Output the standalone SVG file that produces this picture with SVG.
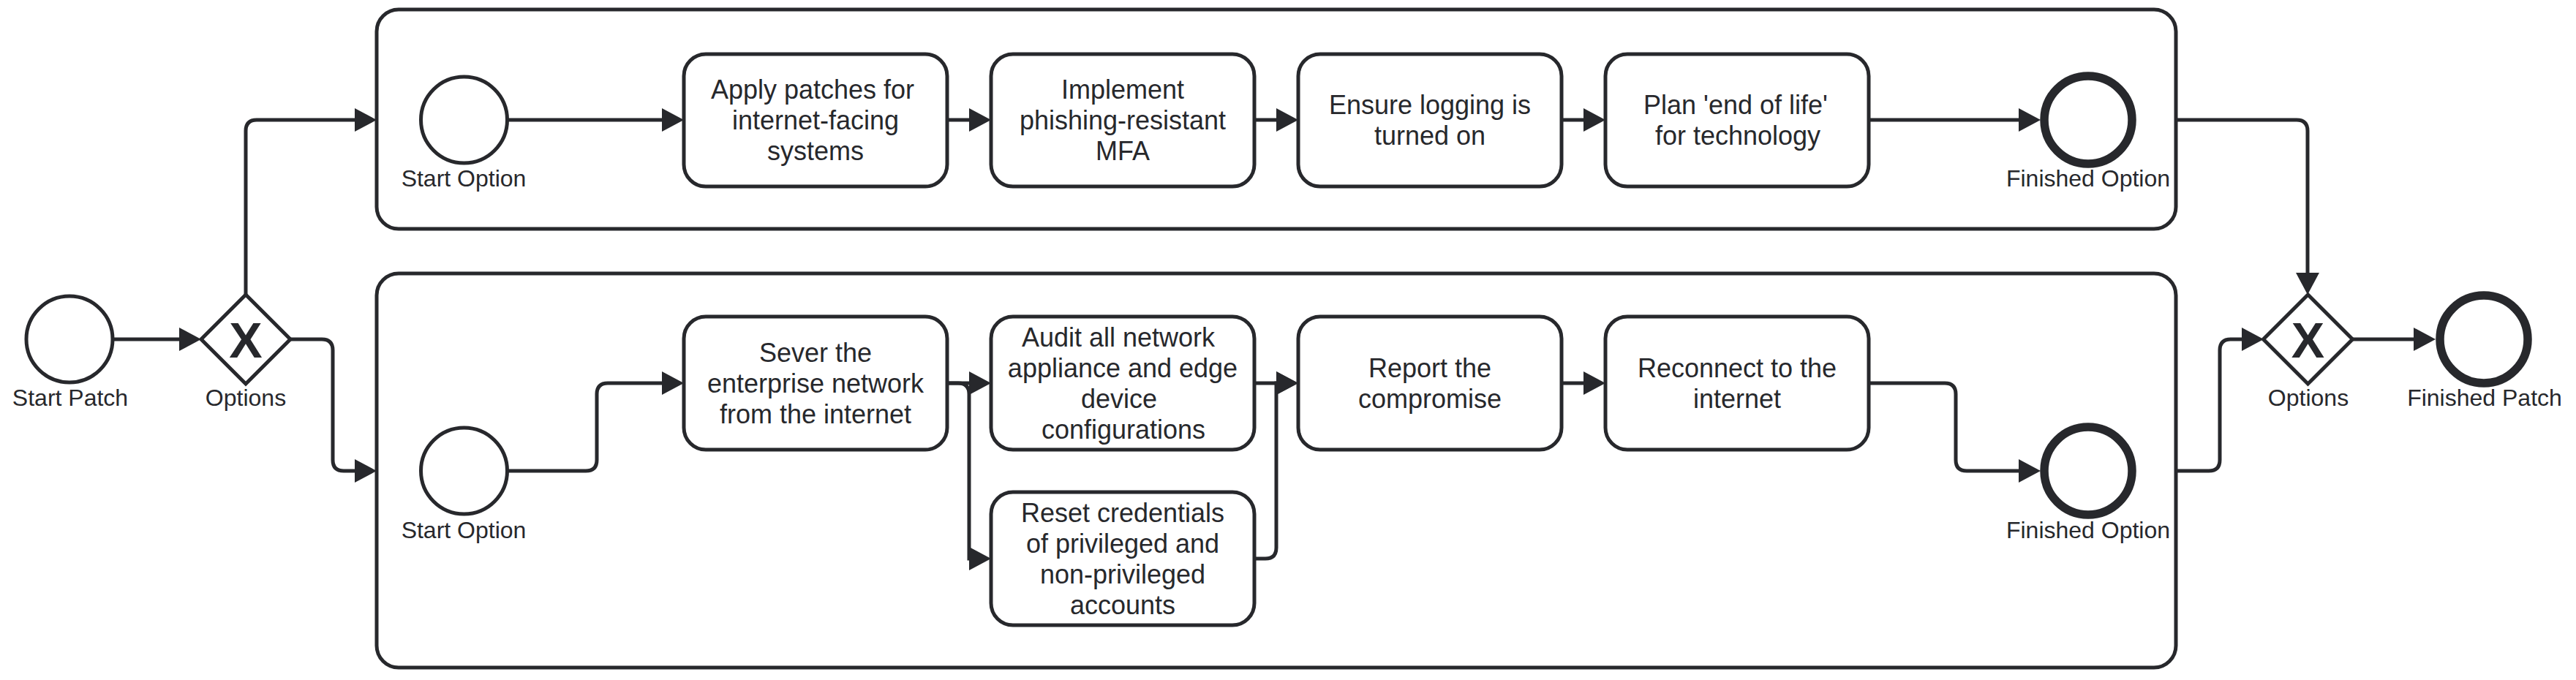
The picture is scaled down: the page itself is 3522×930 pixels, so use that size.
<svg xmlns="http://www.w3.org/2000/svg" width="3522" height="930" viewBox="0 0 3522 930">
<style>
.pool{fill:#ffffff;stroke:#27282c;stroke-width:5}
.task{fill:#ffffff;stroke:#27282c;stroke-width:5}
.start{fill:#ffffff;stroke:#27282c;stroke-width:5}
.end{fill:#ffffff;stroke:#27282c;stroke-width:11.5}
.gw{fill:#ffffff;stroke:#27282c;stroke-width:5;stroke-linejoin:miter}
.edge{fill:none;stroke:#27282c;stroke-width:5;marker-end:url(#arr)}
.lbl{font-family:"Liberation Sans",Arial,sans-serif;font-size:32px;fill:#27282c;text-anchor:middle}
.txt{font-family:"Liberation Sans",Arial,sans-serif;font-size:36px;fill:#27282c;text-anchor:middle}
.gx{font-family:"Liberation Sans",Arial,sans-serif;font-size:68px;font-weight:bold;fill:#27282c;text-anchor:middle}
</style>
<defs>
<marker id="arr" markerUnits="userSpaceOnUse" markerWidth="30" markerHeight="32" refX="5" refY="16" orient="auto">
<path d="M0,0 L30,16 L0,32 Z" fill="#27282c"/>
</marker>
</defs>
<rect x="0" y="0" width="3522" height="930" fill="#ffffff"/>
<g id="pool-top"><rect class="pool" x="515" y="13" width="2460" height="300" rx="30" ry="30"/></g>
<g id="pool-bottom"><rect class="pool" x="515" y="374" width="2460" height="539" rx="30" ry="30"/></g>
<g id="connectors">
<path class="edge" d="M155,464 H250"/>
<path class="edge" d="M336,403 V179 Q336,164 351,164 H490"/>
<path class="edge" d="M397,464 H440 Q455,464 455,479 V629 Q455,644 470,644 H490"/>
<path class="edge" d="M694,164 H910"/>
<path class="edge" d="M1295,164 H1330"/>
<path class="edge" d="M1715,164 H1750"/>
<path class="edge" d="M2135,164 H2170"/>
<path class="edge" d="M2555,164 H2765"/>
<path class="edge" d="M2975,164 H3140 Q3155,164 3155,179 V378"/>
<path class="edge" d="M694,644 H801 Q816,644 816,629 V539 Q816,524 831,524 H910"/>
<path class="edge" d="M1295,524 H1330"/>
<path class="edge" d="M1295,524 H1310 Q1325,524 1325,539 V764 H1330"/>
<path class="edge" d="M1715,524 H1750"/>
<path class="edge" d="M1715,764 H1730 Q1745,764 1745,749 V524 H1750"/>
<path class="edge" d="M2135,524 H2170"/>
<path class="edge" d="M2555,524 H2659 Q2674,524 2674,539 V629 Q2674,644 2689,644 H2765"/>
<path class="edge" d="M2975,644 H3020 Q3035,644 3035,629 V479 Q3035,464 3050,464 H3070"/>
<path class="edge" d="M3216,464 H3305"/>
</g>
<g id="start-patch"><circle class="start" cx="95" cy="464" r="59"/><text class="lbl" x="96" y="555">Start Patch</text></g>
<g id="gateway-split"><polygon class="gw" points="336,403 397,464 336,525 275,464"/><text class="gx" x="336" y="488.5">X</text><text class="lbl" x="336" y="555">Options</text></g>
<g id="start-option-top"><circle class="start" cx="634.5" cy="164" r="59"/><text class="lbl" x="634" y="255">Start Option</text></g>
<g id="task-apply"><rect class="task" x="935" y="74" width="360" height="181" rx="30" ry="30"/><text class="txt"><tspan x="1111" y="135">Apply patches for</tspan><tspan x="1115" y="177">internet-facing</tspan><tspan x="1115" y="219">systems</tspan></text></g>
<g id="task-mfa"><rect class="task" x="1355" y="74" width="360" height="181" rx="30" ry="30"/><text class="txt"><tspan x="1535" y="135">Implement</tspan><tspan x="1535" y="177">phishing-resistant</tspan><tspan x="1535" y="219">MFA</tspan></text></g>
<g id="task-logging"><rect class="task" x="1775" y="74" width="360" height="181" rx="30" ry="30"/><text class="txt"><tspan x="1955" y="156">Ensure logging is</tspan><tspan x="1955" y="198">turned on</tspan></text></g>
<g id="task-eol"><rect class="task" x="2195" y="74" width="360" height="181" rx="30" ry="30"/><text class="txt"><tspan x="2373" y="156">Plan 'end of life'</tspan><tspan x="2376" y="198">for technology</tspan></text></g>
<g id="finished-option-top"><circle class="end" cx="2855" cy="164" r="60"/><text class="lbl" x="2855" y="255">Finished Option</text></g>
<g id="start-option-bottom"><circle class="start" cx="634.5" cy="644" r="59"/><text class="lbl" x="634" y="736">Start Option</text></g>
<g id="task-sever"><rect class="task" x="935" y="433" width="360" height="182" rx="30" ry="30"/><text class="txt"><tspan x="1115" y="494.5">Sever the</tspan><tspan x="1115" y="536.5">enterprise network</tspan><tspan x="1115" y="578.5">from the internet</tspan></text></g>
<g id="task-audit"><rect class="task" x="1355" y="433" width="360" height="182" rx="30" ry="30"/><text class="txt"><tspan x="1529" y="473.5">Audit all network</tspan><tspan x="1535" y="515.5">appliance and edge</tspan><tspan x="1530" y="557.5">device</tspan><tspan x="1536" y="599.5">configurations</tspan></text></g>
<g id="task-reset"><rect class="task" x="1355" y="673" width="360" height="182" rx="30" ry="30"/><text class="txt"><tspan x="1535" y="713.5">Reset credentials</tspan><tspan x="1535" y="755.5">of privileged and</tspan><tspan x="1535" y="797.5">non-privileged</tspan><tspan x="1535" y="839.5">accounts</tspan></text></g>
<g id="task-report"><rect class="task" x="1775" y="433" width="360" height="182" rx="30" ry="30"/><text class="txt"><tspan x="1955" y="515.5">Report the</tspan><tspan x="1955" y="557.5">compromise</tspan></text></g>
<g id="task-reconnect"><rect class="task" x="2195" y="433" width="360" height="182" rx="30" ry="30"/><text class="txt"><tspan x="2375" y="515.5">Reconnect to the</tspan><tspan x="2375" y="557.5">internet</tspan></text></g>
<g id="finished-option-bottom"><circle class="end" cx="2855" cy="644" r="60"/><text class="lbl" x="2855" y="736">Finished Option</text></g>
<g id="gateway-join"><polygon class="gw" points="3155.5,403 3216.5,464 3155.5,525 3094.5,464"/><text class="gx" x="3155.5" y="488.5">X</text><text class="lbl" x="3156" y="555">Options</text></g>
<g id="finished-patch"><circle class="end" cx="3396" cy="464" r="60"/><text class="lbl" x="3397" y="555">Finished Patch</text></g>
</svg>
